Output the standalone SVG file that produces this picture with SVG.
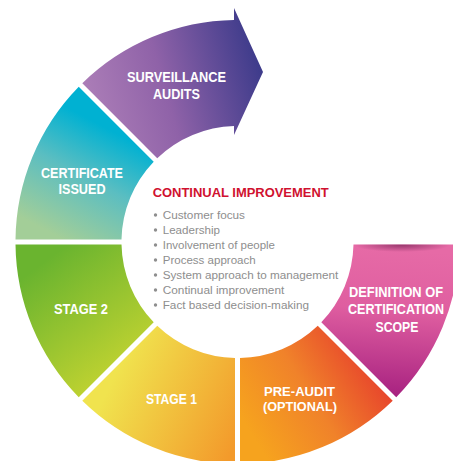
<svg xmlns="http://www.w3.org/2000/svg" width="453" height="461" viewBox="0 0 453 461">
  <defs>
    <linearGradient id="gSurv" gradientUnits="userSpaceOnUse" x1="85" y1="110" x2="262" y2="60">
      <stop offset="0" stop-color="#ad7fb8"/>
      <stop offset="0.45" stop-color="#8f62a8"/>
      <stop offset="1" stop-color="#3b3a8a"/>
    </linearGradient>
    <linearGradient id="gCert" gradientUnits="userSpaceOnUse" x1="110" y1="130" x2="55" y2="235">
      <stop offset="0" stop-color="#00b1d2"/>
      <stop offset="0.45" stop-color="#5bbec1"/>
      <stop offset="1" stop-color="#a3ce98"/>
    </linearGradient>
    <linearGradient id="gStage2" gradientUnits="userSpaceOnUse" x1="40" y1="265" x2="130" y2="385">
      <stop offset="0" stop-color="#6ab42f"/>
      <stop offset="1" stop-color="#cad631"/>
    </linearGradient>
    <linearGradient id="gStage1" gradientUnits="userSpaceOnUse" x1="110" y1="385" x2="235" y2="445">
      <stop offset="0" stop-color="#f0e34e"/>
      <stop offset="1" stop-color="#f39a2b"/>
    </linearGradient>
    <linearGradient id="gPre" gradientUnits="userSpaceOnUse" x1="255" y1="440" x2="375" y2="365">
      <stop offset="0" stop-color="#f6a31e"/>
      <stop offset="0.5" stop-color="#f0822a"/>
      <stop offset="1" stop-color="#e7432c"/>
    </linearGradient>
    <linearGradient id="gDef" gradientUnits="userSpaceOnUse" x1="400" y1="250" x2="390" y2="400">
      <stop offset="0" stop-color="#e66aa6"/>
      <stop offset="0.4" stop-color="#df5ea0"/>
      <stop offset="1" stop-color="#a51f7f"/>
    </linearGradient>
    <radialGradient id="gShadow" cx="0.5" cy="0.5" r="0.5">
      <stop offset="0" stop-color="#5a1040" stop-opacity="0.55"/>
      <stop offset="1" stop-color="#5a1040" stop-opacity="0"/>
    </radialGradient>
    <clipPath id="clipDef">
      <path d="M 353.5 244.5 L 459.5 244.5 A 222 222 0 0 1 396.25 397.21 L 321.29 322.25 A 116 116 0 0 0 353.5 244.5 Z"/>
    </clipPath>
  </defs>
  <style>
    .lbl { font-family: "Liberation Sans", Arial, sans-serif; font-weight: bold; font-size: 15px; fill: #ffffff; text-anchor: middle; }
    .lbl-s { font-size: 13.5px; }
    .lbl-d { font-size: 13.8px; }
    .title { font-family: "Liberation Sans", Arial, sans-serif; font-weight: bold; font-size: 12.6px; fill: #d0112f; }
    .item { font-family: "Liberation Sans", Arial, sans-serif; font-size: 11.7px; fill: #8e8e8e; }
    .dot { fill: #8e8e8e; }
  </style>
  <rect x="0" y="0" width="453" height="461" fill="#ffffff"/>

  <g id="surveillance-audits">
    <path d="M 157.25 158.21 L 82.29 83.25 A 222 222 0 0 1 234 20 L 234 8 L 263 72 L 234 135 L 234 126 A 116 116 0 0 0 157.25 158.21 Z" fill="url(#gSurv)"/>
    <text class="lbl" x="176.5" y="82" textLength="99" lengthAdjust="spacingAndGlyphs">SURVEILLANCE</text>
    <text class="lbl" x="176.5" y="99" textLength="47" lengthAdjust="spacingAndGlyphs">AUDITS</text>
  </g>

  <g id="certificate-issued">
    <path d="M 121.5 239.5 L 15.5 239.5 A 222 222 0 0 1 78.75 86.79 L 153.71 161.75 A 116 116 0 0 0 121.5 239.5 Z" fill="url(#gCert)"/>
    <text class="lbl" x="82" y="178" textLength="82" lengthAdjust="spacingAndGlyphs">CERTIFICATE</text>
    <text class="lbl" x="82" y="194" textLength="47" lengthAdjust="spacingAndGlyphs">ISSUED</text>
  </g>

  <g id="stage-2">
    <path d="M 153.71 322.25 L 78.75 397.21 A 222 222 0 0 1 15.5 244.5 L 121.5 244.5 A 116 116 0 0 0 153.71 322.25 Z" fill="url(#gStage2)"/>
    <text class="lbl" x="81" y="314" textLength="54" lengthAdjust="spacingAndGlyphs">STAGE 2</text>
  </g>

  <g id="stage-1">
    <path d="M 235 358 L 235 464 A 222 222 0 0 1 82.29 400.75 L 157.25 325.79 A 116 116 0 0 0 235 358 Z" fill="url(#gStage1)"/>
    <text class="lbl" x="171.5" y="404" textLength="51" lengthAdjust="spacingAndGlyphs">STAGE 1</text>
  </g>

  <g id="pre-audit">
    <path d="M 317.75 325.79 L 392.71 400.75 A 222 222 0 0 1 240 464 L 240 358 A 116 116 0 0 0 317.75 325.79 Z" fill="url(#gPre)"/>
    <text class="lbl lbl-s" x="299.5" y="395.5" textLength="71" lengthAdjust="spacingAndGlyphs">PRE-AUDIT</text>
    <text class="lbl lbl-s" x="300" y="411" textLength="74" lengthAdjust="spacingAndGlyphs">(OPTIONAL)</text>
  </g>

  <g id="definition-scope">
    <path d="M 353.5 244.5 L 459.5 244.5 A 222 222 0 0 1 396.25 397.21 L 321.29 322.25 A 116 116 0 0 0 353.5 244.5 Z" fill="url(#gDef)"/>
    <ellipse cx="402" cy="245" rx="48" ry="7" fill="url(#gShadow)" clip-path="url(#clipDef)"/>
    <text class="lbl lbl-d" x="396" y="297" textLength="94" lengthAdjust="spacingAndGlyphs">DEFINITION OF</text>
    <text class="lbl lbl-d" x="396" y="314" textLength="96" lengthAdjust="spacingAndGlyphs">CERTIFICATION</text>
    <text class="lbl lbl-d" x="397" y="332" textLength="43" lengthAdjust="spacingAndGlyphs">SCOPE</text>
  </g>

  <g id="continual-improvement">
    <text class="title" x="152.7" y="197.3" textLength="176" lengthAdjust="spacingAndGlyphs">CONTINUAL IMPROVEMENT</text>
    <circle class="dot" cx="155.5" cy="215" r="1.7"/>
    <text class="item" x="162.7" y="219" textLength="82.3" lengthAdjust="spacingAndGlyphs">Customer focus</text>
    <circle class="dot" cx="155.5" cy="230" r="1.7"/>
    <text class="item" x="162.7" y="234" textLength="57.3" lengthAdjust="spacingAndGlyphs">Leadership</text>
    <circle class="dot" cx="155.5" cy="245" r="1.7"/>
    <text class="item" x="162.7" y="249" textLength="112.3" lengthAdjust="spacingAndGlyphs">Involvement of people</text>
    <circle class="dot" cx="155.5" cy="260" r="1.7"/>
    <text class="item" x="162.7" y="264" textLength="93" lengthAdjust="spacingAndGlyphs">Process approach</text>
    <circle class="dot" cx="155.5" cy="275" r="1.7"/>
    <text class="item" x="162.7" y="279" textLength="175.6" lengthAdjust="spacingAndGlyphs">System approach to management</text>
    <circle class="dot" cx="155.5" cy="290" r="1.7"/>
    <text class="item" x="162.7" y="294" textLength="121.6" lengthAdjust="spacingAndGlyphs">Continual improvement</text>
    <circle class="dot" cx="155.5" cy="305" r="1.7"/>
    <text class="item" x="162.7" y="309" textLength="146.3" lengthAdjust="spacingAndGlyphs">Fact based decision-making</text>
  </g>

  <g id="connectors"/>
</svg>
